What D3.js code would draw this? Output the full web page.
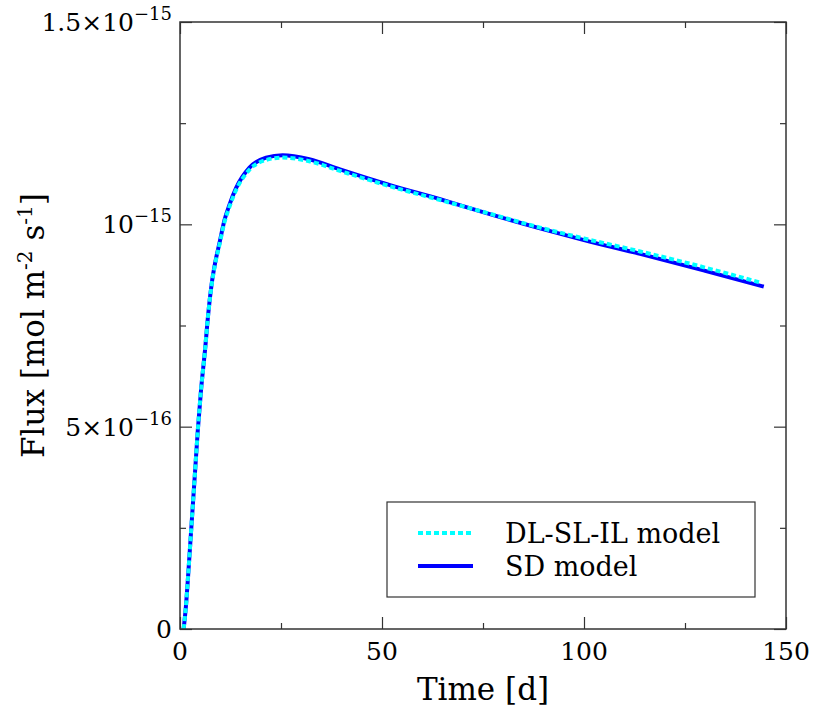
<!DOCTYPE html>
<html>
<head>
<meta charset="utf-8">
<script src="https://cdn.jsdelivr.net/npm/d3@7"></script>
<style>
  body { margin: 0; background: #fff; }
  svg text { font-family: "DejaVu Serif", serif; fill: #000; }
</style>
</head>
<body>
<div id="chart"></div>
<script>
// time in days
let timeSD = [0.9, 1.5, 2.0, 2.8, 3.6, 4.4, 5.2, 6.2, 7.0, 7.8, 8.8, 9.8, 11, 12.3, 13.9, 17.2, 21.3, 25.4, 32, 39.6, 52, 64.4, 75, 89.1, 100, 113.9, 130, 144.5];
// flux, units of 1e-15 mol m-2 s-1
let fluxSD = [0, 0.06, 0.13, 0.25, 0.37, 0.49, 0.59, 0.69, 0.78, 0.85, 0.91, 0.955, 1.01, 1.05, 1.09, 1.14, 1.165, 1.171, 1.161, 1.136, 1.097, 1.062, 1.03, 0.99, 0.961, 0.927, 0.885, 0.846];
let timeDL = [0.9, 1.5, 2.0, 2.8, 3.6, 4.4, 5.2, 6.2, 7.0, 7.8, 8.8, 9.8, 11, 12.3, 13.9, 17.2, 21.3, 25.4, 32, 39.6, 52, 64.4, 75, 89.1, 100, 113.9, 130, 144];
let fluxDL = [0, 0.06, 0.13, 0.25, 0.37, 0.49, 0.59, 0.69, 0.78, 0.848, 0.907, 0.951, 1.005, 1.045, 1.085, 1.135, 1.159, 1.165, 1.156, 1.132, 1.094, 1.06, 1.031, 0.992, 0.965, 0.933, 0.893, 0.855];

let xMajor = [0, 50, 100, 150];
let xMinor = [25, 75, 125];
let yMajor = [0, 0.5, 1.0, 1.5];
let yMinor = [0.25, 0.75, 1.25];
// tick labels as [mantissa, exponent]
let yTickLabels = [['0', ''], ['5×10', '−16'], ['10', '−15'], ['1.5×10', '−15']];
let seriesNames = ['DL-SL-IL model', 'SD model'];

let width = 814, height = 711;
let pLeft = 180, pRight = 786, pTop = 22, pBottom = 629;

let svg = d3.select('#chart').append('svg')
    .attr('width', width)
    .attr('height', height);

let x = d3.scaleLinear().domain([0, 150]).range([pLeft, pRight]);
let y = d3.scaleLinear().domain([0, 1.5]).range([pBottom, pTop]);

let line = d3.line()
    .x(d => x(d[0]))
    .y(d => y(d[1]))
    .curve(d3.curveMonotoneX);

let sd = timeSD.map((t, i) => [t, fluxSD[i]]);
let dl = timeDL.map((t, i) => [t, fluxDL[i]]);

svg.append('path').datum(sd)
    .attr('d', line)
    .attr('fill', 'none')
    .attr('stroke', '#0000ff')
    .attr('stroke-width', 4);

svg.append('path').datum(dl)
    .attr('d', line)
    .attr('fill', 'none')
    .attr('stroke', '#00ffff')
    .attr('stroke-width', 4)
    .attr('stroke-dasharray', '5,3');

// ticks on all four sides, pointing inward
let axisColor = '#333';
function addAxis(axis, tx, ty) {
    let g = svg.append('g')
        .attr('transform', `translate(${tx},${ty})`)
        .call(axis);
    g.select('.domain').remove();
    g.selectAll('line').attr('stroke', axisColor).attr('stroke-width', 1.2);
    g.selectAll('text').remove();
}
[[xMajor, 12], [xMinor, 6]].forEach(([vals, len]) => {
    addAxis(d3.axisBottom(x).tickValues(vals).tickSize(-len), 0, pBottom);
    addAxis(d3.axisTop(x).tickValues(vals).tickSize(-len), 0, pTop);
});
[[yMajor, 12], [yMinor, 6]].forEach(([vals, len]) => {
    addAxis(d3.axisLeft(y).tickValues(vals).tickSize(-len), pLeft, 0);
    addAxis(d3.axisRight(y).tickValues(vals).tickSize(-len), pRight, 0);
});

svg.append('rect')
    .attr('x', pLeft).attr('y', pTop)
    .attr('width', pRight - pLeft).attr('height', pBottom - pTop)
    .attr('fill', 'none')
    .attr('stroke', axisColor)
    .attr('stroke-width', 1.5);

// x tick labels
svg.selectAll('.xlab').data(xMajor).enter().append('text')
    .attr('x', d => x(d))
    .attr('y', pBottom + 31)
    .attr('text-anchor', 'middle')
    .style('font-size', '25px')
    .text(d => d);

// y tick labels with superscript exponents
let ylab = svg.selectAll('.ylab').data(yMajor).enter().append('text')
    .attr('x', pLeft - 8)
    .attr('y', d => y(d) + 9)
    .attr('text-anchor', 'end')
    .style('font-size', '25px');
ylab.append('tspan').text((d, i) => yTickLabels[i][0]);
ylab.append('tspan')
    .attr('dy', -11)
    .style('font-size', '18px')
    .text((d, i) => yTickLabels[i][1]);

// axis titles
svg.append('text')
    .attr('x', (pLeft + pRight) / 2)
    .attr('y', 700)
    .attr('text-anchor', 'middle')
    .style('font-size', '31px')
    .text('Time [d]');

let ytitle = svg.append('text')
    .attr('transform', `translate(44,${(pTop + pBottom) / 2}) rotate(-90)`)
    .attr('text-anchor', 'middle')
    .style('font-size', '31px');
ytitle.append('tspan').text('Flux [mol m');
ytitle.append('tspan').attr('dy', -12).style('font-size', '20px').text('-2');
ytitle.append('tspan').attr('dy', 12).text(' s');
ytitle.append('tspan').attr('dy', -12).style('font-size', '20px').text('-1');
ytitle.append('tspan').attr('dy', 12).text(']');

// legend
let legend = svg.append('g');
legend.append('rect')
    .attr('x', 387).attr('y', 502)
    .attr('width', 368).attr('height', 95)
    .attr('fill', '#fff')
    .attr('stroke', axisColor)
    .attr('stroke-width', 1.2);
let legStyles = [
    { color: '#00ffff', dash: '5,3' },
    { color: '#0000ff', dash: null }
];
seriesNames.forEach((name, i) => {
    let ly = 533 + i * 33;
    legend.append('line')
        .attr('x1', 418).attr('x2', 473)
        .attr('y1', ly).attr('y2', ly)
        .attr('stroke', legStyles[i].color)
        .attr('stroke-width', 4)
        .attr('stroke-dasharray', legStyles[i].dash);
    legend.append('text')
        .attr('x', 505)
        .attr('y', ly + 10)
        .style('font-size', '27px')
        .text(name);
});
</script>
</body>
</html>
